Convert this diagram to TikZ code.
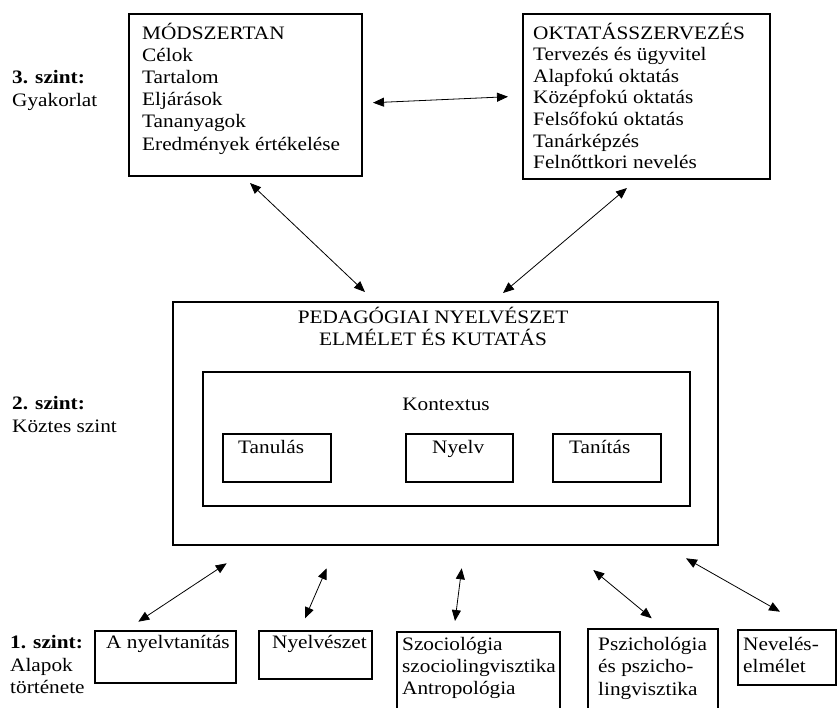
\documentclass[tikz,border=0pt]{standalone}
\usepackage{fontspec}
\setmainfont{Liberation Serif}[FakeStretch=1.12]
\usetikzlibrary{arrows.meta}

\begin{document}
\begin{tikzpicture}[x=1pt,y=-1pt,
  box/.style={draw, line width=1.3pt, inner sep=0pt, outer sep=0pt, anchor=north west},
  txt/.style={inner sep=0pt, anchor=base west, font=\fontsize{19}{22}\selectfont},
  ctxt/.style={txt, anchor=base},
  lvl/.style={txt, font=\fontsize{19}{22}\selectfont\bfseries},
  link/.style={{Triangle[length=11pt,width=9pt]}-{Triangle[length=11pt,width=9pt]}, line width=0.8pt}
]
\path[use as bounding box] (0,0) rectangle (837,707);
\clip (0,0) rectangle (837,707);

% ---- level 3: practice ----
\node[box, minimum width=233pt, minimum height=162pt] (mod) at (129,14) {};
\foreach \t [count=\i from 0] in {MÓDSZERTAN,Célok,Tartalom,Eljárások,Tananyagok,Eredmények értékelése}
  \node[txt] (mod\i) at (142,{39+22.2*\i}) {\t};

\node[box, minimum width=247pt, minimum height=165pt] (okt) at (523,14) {};
\foreach \t [count=\i from 0] in {OKTATÁSSZERVEZÉS,Tervezés és ügyvitel,Alapfokú oktatás,Középfokú oktatás,Felsőfokú oktatás,Tanárképzés,Felnőttkori nevelés}
  \node[txt] (okt\i) at (533,{39+21.6*\i}) {\t};

\node[lvl] (l3a) at (12,83) {3. szint:};
\node[txt] (l3b) at (12,106) {Gyakorlat};

% ---- level 2: intermediate ----
\node[box, minimum width=545pt, minimum height=243pt] (ped) at (173,302) {};
\node[ctxt] (ped1) at (433,323) {PEDAGÓGIAI NYELVÉSZET};
\node[ctxt] (ped2) at (433,345) {ELMÉLET ÉS KUTATÁS};

\node[box, minimum width=487pt, minimum height=134pt] (ctx) at (203,372) {};
\node[ctxt] (ctxl) at (446,410) {Kontextus};

\node[box, line width=1.2pt, minimum width=108pt, minimum height=48pt] (tan) at (223,434) {};
\node[txt] (tanl) at (238,453) {Tanulás};
\node[box, line width=1.2pt, minimum width=107pt, minimum height=48pt] (nye) at (406,434) {};
\node[txt] (nyel) at (432,453) {Nyelv};
\node[box, line width=1.2pt, minimum width=108pt, minimum height=48pt] (tai) at (553,434) {};
\node[txt] (tail) at (569,453) {Tanítás};

\node[lvl] (l2a) at (12,409) {2. szint:};
\node[txt] (l2b) at (12,432) {Köztes szint};

% ---- level 1: foundations ----
\node[box, minimum width=141pt, minimum height=52pt] (b1) at (95,631) {};
\node[txt] (b1t) at (106,648) {A nyelvtanítás};
\node[box, minimum width=113pt, minimum height=48pt] (b2) at (259,631) {};
\node[txt] (b2t) at (272,648) {Nyelvészet};
\node[box, minimum width=163pt, minimum height=90pt] (b3) at (397,632) {};
\foreach \t [count=\i from 0] in {Szociológia,szociolingvisztika,Antropológia}
  \node[txt] (b3t\i) at (402,{650+22*\i}) {\t};
\node[box, minimum width=130pt, minimum height=90pt] (b4) at (588,629) {};
\foreach \t [count=\i from 0] in {Pszichológia,és pszicho-,lingvisztika}
  \node[txt] (b4t\i) at (598,{650+22.5*\i}) {\t};
\node[box, minimum width=98pt, minimum height=55pt] (b5) at (738,630) {};
\foreach \t [count=\i from 0] in {Nevelés-,elmélet}
  \node[txt] (b5t\i) at (743,{650+22*\i}) {\t};

\node[lvl] (l1a) at (10,648) {1. szint:};
\node[txt] (l1b) at (10,671) {Alapok};
\node[txt] (l1c) at (10,693) {története};

% ---- connectors ----
\coordinate (a1s) at (373,102.7); \coordinate (a1e) at (508,96.7);
\coordinate (a2s) at (250,183);   \coordinate (a2e) at (365,292);
\coordinate (a3s) at (627,188);   \coordinate (a3e) at (503,293);
\coordinate (c1s) at (226.7,563.3); \coordinate (c1e) at (138.3,621.7);
\coordinate (c2s) at (326.7,568.3); \coordinate (c2e) at (305,618.3);
\coordinate (c3s) at (461.7,568.3); \coordinate (c3e) at (455,621);
\coordinate (c4s) at (593.3,570);   \coordinate (c4e) at (651.7,618.3);
\coordinate (c5s) at (686,558.3);   \coordinate (c5e) at (780,611.7);
\foreach \a in {a1,a2,a3,c1,c2,c3,c4,c5}
  \draw[link] (\a s) -- (\a e);
\end{tikzpicture}
\end{document}
